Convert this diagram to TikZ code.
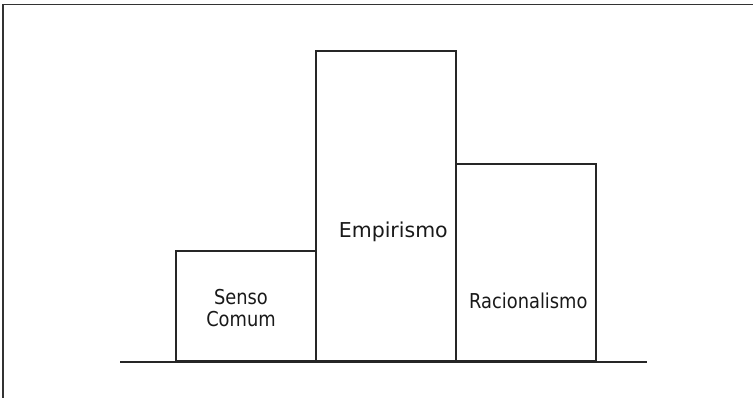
\documentclass[tikz,border=0pt]{standalone}
\usepackage{fontspec}
\setmainfont{DejaVu Sans}
\newfontfamily\narrowfont[FakeStretch=0.87]{DejaVu Sans}
\tikzstyle{bar} = [rectangle, draw=black!85, line width=1.8pt, anchor=south west, inner sep=0pt, minimum width=140pt]
\tikzstyle{word} = [text centered, align=center, inner sep=0pt, text=black!90, font=\fontsize{20.5}{22.7}\selectfont]
\tikzstyle{narrowword} = [word, font=\fontsize{20.5}{22.7}\selectfont\narrowfont]
\tikzstyle{ground} = [draw=black!85, line width=1.8pt]
\tikzstyle{frame} = [draw=black!80, line width=1.2pt]

\begin{document}
\begin{tikzpicture}[x=1pt, y=-1pt]

    \useasboundingbox (0,0) rectangle (753,398);

    \coordinate (framebottom) at (3,398);
    \coordinate (framecorner) at (3,4.5);
    \coordinate (frameright) at (753,4.5);
    \draw [frame] (framebottom) -- (framecorner) -- (frameright);

    \node (senso) [bar, minimum height=110pt] at (175,362) {};
    \node (empirismo) [bar, minimum height=310pt] at (315,362) {};
    \node (racionalismo) [bar, minimum height=197pt] at (455,362) {};

    \coordinate (groundleft) at (120,362);
    \coordinate (groundright) at (647,362);
    \draw [ground] (groundleft) -- (groundright);

    \node (sensolabel) [narrowword] at (241,308) {Senso\\Comum};
    \node (empirismolabel) [word, anchor=base] at (393.3,237.3) {Empirismo};
    \node (racionalismolabel) [narrowword, anchor=base] at (528.3,308.3) {Racionalismo};

\end{tikzpicture}
\end{document}
